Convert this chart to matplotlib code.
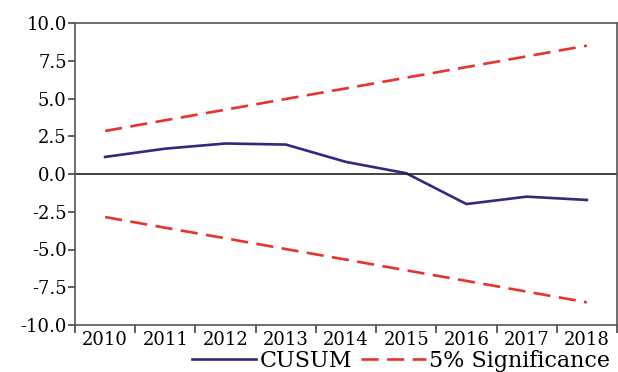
import numpy as np
import matplotlib
matplotlib.use("Agg")
import matplotlib.pyplot as plt
from matplotlib.ticker import FixedLocator, FixedFormatter

# data
years = [2010, 2011, 2012, 2013, 2014, 2015, 2016, 2017, 2018]
cusum = [1.13, 1.68, 2.02, 1.95, 0.80, 0.05, -1.99, -1.50, -1.72]
upper = [2.85, 3.56, 4.26, 4.97, 5.67, 6.38, 7.08, 7.79, 8.50]
lower = [-2.85, -3.56, -4.26, -4.97, -5.67, -6.38, -7.08, -7.79, -8.50]
yticks = [-10.0, -7.5, -5.0, -2.5, 0.0, 2.5, 5.0, 7.5, 10.0]

plt.rcParams["font.family"] = ["DejaVu Serif", "Liberation Serif"]

fig = plt.figure(figsize=(6.18, 3.72), dpi=100)
ax = fig.add_axes([75 / 618, 1 - 325 / 372, 542 / 618, 302 / 372])

navy = "#2E2A80"
red = "#E8322E"
dash = (0, (6.5, 3.2))
l1, = ax.plot(years, cusum, color=navy, lw=1.9, label="CUSUM")
l2, = ax.plot(years, upper, color=red, lw=1.9, ls=dash, label="5% Significance")
ax.plot(years, lower, color=red, lw=1.9, ls=dash)
ax.axhline(0, color="#222222", lw=1.2)

ax.set_xlim(years[0] - 0.5, years[-1] + 0.5)
ax.set_ylim(-10, 10)
ax.set_yticks(yticks)
ax.set_yticklabels([f"{v:.1f}" for v in yticks])

bounds = [y - 0.5 for y in years] + [years[-1] + 0.5]
ax.xaxis.set_major_locator(FixedLocator(bounds))
ax.xaxis.set_major_formatter(FixedFormatter([""] * len(bounds)))
ax.xaxis.set_minor_locator(FixedLocator(years))
ax.xaxis.set_minor_formatter(FixedFormatter([str(y) for y in years]))
ax.tick_params(axis="x", which="major", length=6, width=1.2, color="#444444", direction="out")
ax.tick_params(axis="x", which="minor", length=0, labelsize=13, pad=4)
ax.tick_params(axis="y", length=5, width=1.2, color="#444444", labelsize=13, pad=1)

for s in ax.spines.values():
    s.set_color("#555555")
    s.set_linewidth(1.2)

fig.legend([l1, l2], ["CUSUM", "5% Significance"], loc="center",
           bbox_to_anchor=(401 / 618, 1 - 361 / 372), ncol=2, frameon=False,
           fontsize=16, handlelength=2.9, handletextpad=0.15, columnspacing=0.4,
           borderpad=0)

fig.savefig("out.png", dpi=100)
